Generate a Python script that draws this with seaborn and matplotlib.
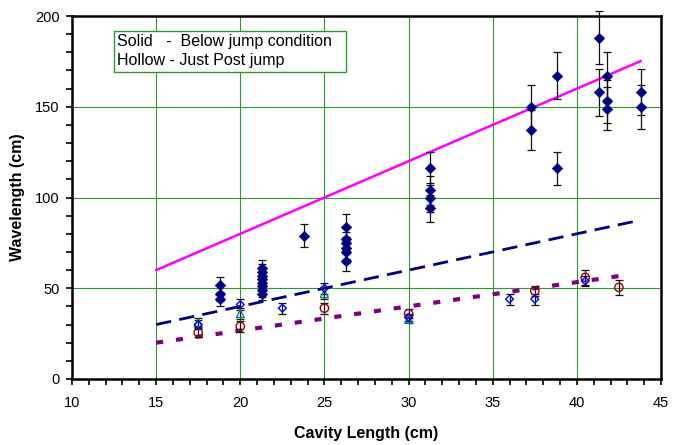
import matplotlib
matplotlib.use("Agg")
import matplotlib.pyplot as plt
import matplotlib.patches as mpatches
from matplotlib.ticker import MultipleLocator
import seaborn as sns

# ---- data ----
solid_x = [18.8, 18.8, 18.8,
           21.3, 21.3, 21.3, 21.3, 21.3, 21.3, 21.3, 21.3,
           23.8,
           26.3, 26.3, 26.3, 26.3, 26.3, 26.3,
           31.3, 31.3, 31.3, 31.3,
           37.3, 37.3,
           38.8, 38.8,
           41.3, 41.3,
           41.8, 41.8, 41.8,
           43.8, 43.8]
solid_y = [52, 47, 44,
           61, 59, 57, 55, 53, 51, 49, 47,
           79,
           84, 77, 75, 72, 70, 65,
           116, 104, 100, 94,
           150, 137,
           167, 116,
           188, 158,
           167, 153, 149,
           158, 150]
solid_err = [4.4, 4, 4,
             4.5, 4.5, 4, 4, 4, 4, 4, 3.5,
             6.5,
             7, 6, 6, 6, 6, 5.5,
             9, 8, 8, 7.5,
             12, 11,
             13, 9,
             14.5, 13,
             13, 12, 12,
             12.7, 12]

blue_x = [17.5, 20, 22.5, 25, 30, 36, 37.5, 40.5]
blue_y = [30, 41, 39, 50, 34, 44, 44, 54]
blue_err = [2.5, 3, 3, 3, 2, 3, 3, 3]

teal_x = [17.5, 20, 25, 30]
teal_y = [31, 36, 47, 33]
teal_err = [2.5, 3, 3, 2]

red_x = [17.5, 20, 25, 30, 37.5, 40.5, 42.5]
red_y = [25.5, 29, 39, 36, 48.5, 56, 50.5]
red_err = [2.5, 3, 3, 2.5, 3, 4, 4]

magenta_x = [15, 43.8]
magenta_y = [60, 175.2]
navy_x = [15, 43.8]
navy_y = [30, 87.6]
purple_x = [15, 42.5]
purple_y = [20, 56.7]

legend_lines = ["Solid   -  Below jump condition", "Hollow - Just Post jump"]

# ---- style ----
sns.set_style("white")
plt.rcParams['font.family'] = ['Liberation Sans', 'DejaVu Sans']
plt.rcParams['text.color'] = 'black'
plt.rcParams['axes.labelcolor'] = 'black'
plt.rcParams['xtick.color'] = 'black'
plt.rcParams['ytick.color'] = 'black'

fig = plt.figure(figsize=(6.77, 4.45), dpi=100)
ax = fig.add_axes([72/677, 1-379/445, (661-72)/677, (379-16)/445])

GRID = '#2e9a2e'
for gx in [15, 20, 25, 30, 35, 40]:
    ax.axvline(gx, color=GRID, lw=0.8, zorder=0)
for gy in [50, 100, 150]:
    ax.axhline(gy, color=GRID, lw=0.8, zorder=0)

# fitted / model lines
sns.lineplot(x=magenta_x, y=magenta_y, color='#FF00FF', lw=1.8, ax=ax, zorder=2)
sns.lineplot(x=navy_x, y=navy_y, color='#000080', lw=2.0, linestyle=(0, (5.5, 3)), ax=ax, zorder=2)
sns.lineplot(x=purple_x, y=purple_y, color='#800080', lw=3.0, linestyle=(0, (1.7, 3.1)), ax=ax, zorder=2)

# error bars
for xs, ys, es in [(solid_x, solid_y, solid_err), (blue_x, blue_y, blue_err),
                   (teal_x, teal_y, teal_err), (red_x, red_y, red_err)]:
    ax.errorbar(xs, ys, yerr=es, fmt='none', ecolor='#111111', elinewidth=0.9,
                capsize=2.6, capthick=0.9, zorder=3, clip_on=False)

# markers
sns.scatterplot(x=solid_x, y=solid_y, marker='D', s=28, color='#000080',
                edgecolor='#000080', linewidth=0.5, ax=ax, zorder=4, clip_on=False)
sns.scatterplot(x=teal_x, y=teal_y, marker='^', s=32, color='#008080',
                facecolor='none', edgecolor='#008080', linewidth=1.0, ax=ax, zorder=4)
sns.scatterplot(x=red_x, y=red_y, marker='o', s=36, color='#800000',
                facecolor='none', edgecolor='#990000', linewidth=1.0, ax=ax, zorder=4)
sns.scatterplot(x=blue_x, y=blue_y, marker='D', s=16, color='#0000FF',
                facecolor='none', edgecolor='#0000FF', linewidth=1.0, ax=ax, zorder=5)

ax.set_xlim(10, 45)
ax.set_ylim(0, 200)
ax.xaxis.set_major_locator(MultipleLocator(5))
ax.xaxis.set_minor_locator(MultipleLocator(1))
ax.yaxis.set_major_locator(MultipleLocator(50))
ax.yaxis.set_minor_locator(MultipleLocator(10))
ax.tick_params(axis='both', which='both', direction='out', length=4.5, width=1.2,
               color='black', labelcolor='black', labelsize=10.5,
               bottom=True, left=True, top=False, right=False)
ax.tick_params(axis='x', which='major', pad=8)
ax.tick_params(axis='y', which='major', pad=4.5)
for sp in ax.spines.values():
    sp.set_visible(True)
    sp.set_color('black')
    sp.set_linewidth(1.8)

ax.set_xlabel("Cavity Length (cm)", fontsize=11.5, fontweight='bold', labelpad=11, color='black')
ax.set_ylabel("Wavelength (cm)", fontsize=11.5, fontweight='bold', labelpad=7, color='black')

# text box legend
ax.add_patch(mpatches.Rectangle((0.0713, 0.845), 0.394, 0.115, transform=ax.transAxes,
                                facecolor='white', edgecolor='#2e9a2e', lw=1.0, zorder=6))
ax.text(0.0764, 0.929, legend_lines[0], transform=ax.transAxes, fontsize=11.5,
        va='center', ha='left', zorder=7, color='black')
ax.text(0.0764, 0.877, legend_lines[1], transform=ax.transAxes, fontsize=11.5,
        va='center', ha='left', zorder=7, color='black')

fig.savefig("out.png", dpi=100)
